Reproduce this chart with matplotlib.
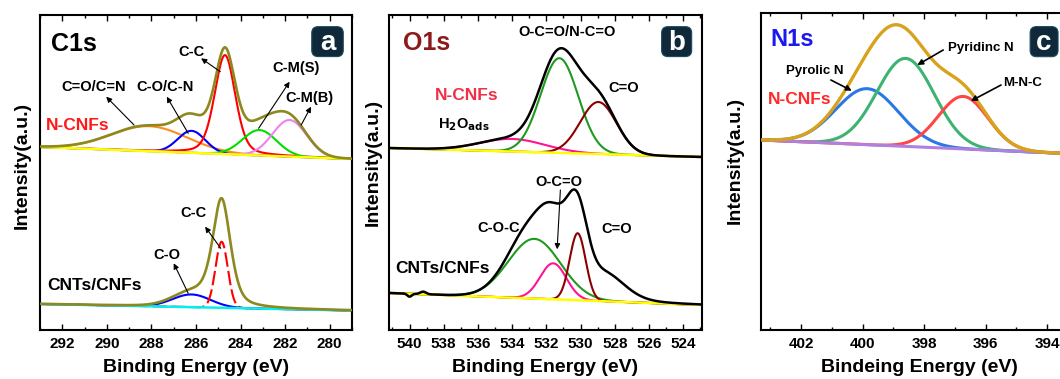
import numpy as np
import matplotlib
matplotlib.use("Agg")
import matplotlib.pyplot as plt
from matplotlib.patches import FancyBboxPatch
from matplotlib.ticker import MultipleLocator

plt.rcParams['font.family'] = ['Liberation Sans', 'DejaVu Sans']
plt.rcParams['font.weight'] = 'bold'
plt.rcParams['mathtext.default'] = 'bf'

# ---- C1s, N-CNFs (peak fit components) ----
c1s_top_names = ['C=O/C=N', 'C-O/C-N', 'C-C', 'C-M(S)', 'C-M(B)']
c1s_top_centers = [288.1, 286.2, 284.7, 283.15, 281.8]
c1s_top_heights = [25.0, 22.0, 99.0, 25.4, 36.6]
c1s_top_fwhm = [4.0, 1.45, 1.1, 1.8, 1.8]
c1s_top_eta = [0.0, 0.0, 0.3, 0.0, 0.0]
c1s_top_baseline = [183.0, 171.0]

# ---- C1s, CNTs/CNFs ----
c1s_bot_names = ['C-O', 'C-C']
c1s_bot_centers = [286.2, 284.85]
c1s_bot_heights = [12.7, 66.0]
c1s_bot_fwhm = [2.0, 0.65]
c1s_bot_eta = [0.0, 0.0]
c1s_bot_env_centers = [286.2, 284.85]
c1s_bot_env_heights = [12.7, 106.0]
c1s_bot_env_fwhm = [2.0, 0.95]
c1s_bot_env_eta = [0.0, 0.5]
c1s_bot_baseline = [26.0, 19.5]

# ---- O1s, N-CNFs ----
o1s_top_names = ['H2O_ads', 'O-C=O/N-C=O', 'C=O']
o1s_top_centers = [534.0, 531.24, 528.96]
o1s_top_heights = [12.6, 94.7, 52.0]
o1s_top_fwhm = [4.5, 2.6, 2.5]
o1s_top_eta = [0.0, 0.0, 0.0]
o1s_top_baseline = [182.0, 173.0]

# ---- O1s, CNTs/CNFs ----
o1s_bot_names = ['C-O-C', 'O-C=O', 'C=O']
o1s_bot_centers = [532.7, 531.6, 530.17]
o1s_bot_heights = [59.7, 36.0, 67.0]
o1s_bot_fwhm = [3.6, 1.8, 1.1]
o1s_bot_eta = [0.0, 0.0, 0.0]
o1s_bot_env_centers = [532.7, 531.5, 530.2, 528.6, 540.0, 539.2]
o1s_bot_env_heights = [75.0, 34.0, 72.0, 28.0, -3.0, 2.5]
o1s_bot_env_fwhm = [3.4, 1.8, 1.4, 2.8, 0.3, 0.4]
o1s_bot_env_eta = [0.0, 0.0, 0.0, 0.3, 0.0, 0.0]
o1s_bot_baseline = [37.0, 25.0]

# ---- N1s, N-CNFs ----
n1s_names = ['Pyrolic N', 'Pyridinc N', 'M-N-C']
n1s_centers = [399.85, 398.6, 396.73]
n1s_heights = [56.0, 88.0, 52.5]
n1s_fwhm = [2.4, 2.2, 1.9]
n1s_eta = [0.0, 0.0, 0.0]
n1s_baseline = [190.0, 176.0]


def peak(x, center, height, fwhm, eta=0.0):
    """Pseudo-Voigt peak."""
    u = (x - center) / fwhm
    g = np.exp(-4 * np.log(2) * u ** 2)
    lor = 1.0 / (1.0 + 4 * u ** 2)
    return height * ((1 - eta) * g + eta * lor)


def baseline(x, ends, xlim):
    return ends[0] + (ends[1] - ends[0]) * (x - xlim[0]) / (xlim[1] - xlim[0])


def envelope(x, centers, heights, fwhm, eta):
    total = np.zeros_like(x)
    for c, h, w, e in zip(centers, heights, fwhm, eta):
        total += peak(x, c, h, w, e)
    return total


def style_axis(ax, xlim, ylim, major, xlabel):
    ax.set_xlim(*xlim)
    ax.set_ylim(*ylim)
    ax.set_yticks([])
    ax.xaxis.set_major_locator(MultipleLocator(major))
    ax.xaxis.set_minor_locator(MultipleLocator(major / 2))
    ax.tick_params(axis='x', which='both', direction='in', top=True,
                   labelsize=11, pad=5, width=1.0)
    ax.tick_params(axis='x', which='major', length=4)
    ax.tick_params(axis='x', which='minor', length=2.5)
    for lab in ax.get_xticklabels():
        lab.set_fontweight('bold')
    for s in ax.spines.values():
        s.set_linewidth(1.5)
    ax.set_xlabel(xlabel, fontsize=14, fontweight='bold', labelpad=6)


def label_box(ax, x0, y0, x1, y1, letter):
    box = FancyBboxPatch((x0, y0), x1 - x0, y1 - y0,
                         boxstyle='round,pad=0,rounding_size=0.02',
                         transform=ax.transAxes, fc='#10293a', ec='#1d4a5e',
                         lw=0.8, zorder=5, clip_on=False)
    ax.add_patch(box)
    ax.text((x0 + x1) / 2, (y0 + y1) / 2 - 0.005, letter, transform=ax.transAxes,
            ha='center', va='center', color='white', fontsize=20,
            fontweight='bold', zorder=6)


def arrow(ax, tail, head, lw=0.8):
    ax.annotate('', xy=head, xytext=tail,
                arrowprops=dict(arrowstyle='-|>', color='black', lw=lw,
                                mutation_scale=8, shrinkA=0, shrinkB=0))


fig = plt.figure(figsize=(10.6, 3.79), dpi=100)
W, H = 1060.0, 379.0
ax_a = fig.add_axes([40 / W, 49 / H, 312 / W, 315 / H])
ax_b = fig.add_axes([389 / W, 49 / H, 313 / W, 315 / H])
ax_c = fig.add_axes([761 / W, 49 / H, 317 / W, 316.7 / H])

# ---------------- panel a: C1s ----------------
xlim_a = (293.0, 279.0)
x = np.linspace(xlim_a[0], xlim_a[1], 800)
bl = baseline(x, c1s_top_baseline, xlim_a)
colors_top_a = ['#ff8c1a', '#0000ff', '#ff0000', '#00dd00', '#ee82ee']
for c, h, w, e, col in zip(c1s_top_centers, c1s_top_heights, c1s_top_fwhm,
                           c1s_top_eta, colors_top_a):
    ax_a.plot(x, bl + peak(x, c, h, w, e), color=col, lw=1.5, zorder=2)
ax_a.plot(x, bl, color='#ffff00', lw=1.8, zorder=2.5)
ax_a.plot(x, bl + envelope(x, c1s_top_centers, c1s_top_heights, c1s_top_fwhm,
                           c1s_top_eta), color='#8c8a1e', lw=1.9, zorder=3)

bl = baseline(x, c1s_bot_baseline, xlim_a)
ax_a.plot(x, bl + peak(x, c1s_bot_centers[0], c1s_bot_heights[0],
                       c1s_bot_fwhm[0], c1s_bot_eta[0]),
          color='#0000ff', lw=1.5, zorder=2)
ax_a.plot(x, bl + peak(x, c1s_bot_centers[1], c1s_bot_heights[1],
                       c1s_bot_fwhm[1], c1s_bot_eta[1]),
          color='#ff0000', lw=1.5, ls=(0, (7, 2)), zorder=2)
ax_a.plot(x, bl, color='#00f0f0', lw=1.8, zorder=2.5)
ax_a.plot(x, bl + envelope(x, c1s_bot_env_centers, c1s_bot_env_heights,
                           c1s_bot_env_fwhm, c1s_bot_env_eta),
          color='#8c8a1e', lw=1.9, zorder=3)

style_axis(ax_a, xlim_a, (0, 315), 2, 'Binding Energy (eV)')
ax_a.text(292.5, 286, 'C1s', fontsize=18, fontweight='bold', ha='left', va='center')
ax_a.text(292.75, 205, 'N-CNFs', color='#ff1a1a', fontsize=12.5, ha='left', va='center')
ax_a.text(292.68, 45, 'CNTs/CNFs', color='black', fontsize=12.5, ha='left', va='center')
fs = 10.5
ax_a.text(290.61, 242.7, 'C=O/C=N', fontsize=fs, ha='center', va='center')
arrow(ax_a, (288.78, 205), (290.03, 233.3))
ax_a.text(287.38, 242.7, 'C-O/C-N', fontsize=fs, ha='center', va='center')
arrow(ax_a, (286.35, 196.7), (287.31, 233.3))
ax_a.text(286.18, 278.3, 'C-C', fontsize=fs, ha='center', va='center')
arrow(ax_a, (284.91, 258.3), (285.77, 271.7))
ax_a.text(281.5, 261.7, 'C-M(S)', fontsize=fs, ha='center', va='center')
arrow(ax_a, (283.19, 201.7), (281.8, 248.3))
ax_a.text(280.91, 231.7, 'C-M(B)', fontsize=fs, ha='center', va='center')
arrow(ax_a, (281.28, 205), (280.84, 223.3))
ax_a.text(286.13, 116.7, 'C-C', fontsize=fs, ha='center', va='center')
arrow(ax_a, (284.89, 81.7), (285.59, 103.3))
ax_a.text(287.31, 75, 'C-O', fontsize=fs, ha='center', va='center')
arrow(ax_a, (286.35, 36.7), (287.0, 66.7))
label_box(ax_a, 0.871, 0.868, 0.972, 0.963, 'a')

# ---------------- panel b: O1s ----------------
xlim_b = (541.2, 522.9)
x = np.linspace(xlim_b[0], xlim_b[1], 800)
bl = baseline(x, o1s_top_baseline, xlim_b)
colors_top_b = ['#ff1493', '#1f9a1f', '#8b0000']
for c, h, w, e, col in zip(o1s_top_centers, o1s_top_heights, o1s_top_fwhm,
                           o1s_top_eta, colors_top_b):
    ax_b.plot(x, bl + peak(x, c, h, w, e), color=col, lw=1.5, zorder=2)
ax_b.plot(x, bl, color='#ffff00', lw=1.8, zorder=2.5)
ax_b.plot(x, bl + envelope(x, o1s_top_centers, o1s_top_heights, o1s_top_fwhm,
                           o1s_top_eta), color='black', lw=1.8, zorder=3)

bl = baseline(x, o1s_bot_baseline, xlim_b)
colors_bot_b = ['#1f9a1f', '#ff1493', '#8b0000']
for c, h, w, e, col in zip(o1s_bot_centers, o1s_bot_heights, o1s_bot_fwhm,
                           o1s_bot_eta, colors_bot_b):
    ax_b.plot(x, bl + peak(x, c, h, w, e), color=col, lw=1.5, zorder=2)
ax_b.plot(x, bl, color='#ffff00', lw=1.8, zorder=2.5)
ax_b.plot(x, bl + envelope(x, o1s_bot_env_centers, o1s_bot_env_heights,
                           o1s_bot_env_fwhm, o1s_bot_env_eta),
          color='black', lw=1.8, zorder=3)

style_axis(ax_b, xlim_b, (0, 315), 2, 'Binding Energy (eV)')
ax_b.text(540.37, 286.7, 'O1s', color='#8b1a1a', fontsize=18, ha='left', va='center')
ax_b.text(536.63, 234, 'N-CNFs', color='#f0304a', fontsize=12.5, ha='center', va='center')
ax_b.text(540.82, 61.7, 'CNTs/CNFs', color='black', fontsize=12.5, ha='left', va='center')
ax_b.text(530.79, 298.3, 'O-C=O/N-C=O', fontsize=fs, ha='center', va='center')
ax_b.text(536.83, 205, r'H$_2$O$_{ads}$', fontsize=fs, ha='center', va='center')
ax_b.text(527.48, 241.7, 'C=O', fontsize=fs, ha='center', va='center')
ax_b.text(531.28, 148.3, 'O-C=O', fontsize=fs, ha='center', va='center')
arrow(ax_b, (531.18, 140), (531.37, 80.7))
ax_b.text(534.78, 101.7, 'C-O-C', fontsize=fs, ha='center', va='center')
ax_b.text(527.87, 100.7, 'C=O', fontsize=fs, ha='center', va='center')
label_box(ax_b, 0.871, 0.868, 0.967, 0.963, 'b')

# ---------------- panel c: N1s ----------------
xlim_c = (403.3, 393.0)
x = np.linspace(xlim_c[0], xlim_c[1], 800)
bl = baseline(x, n1s_baseline, xlim_c)
colors_c = ['#2a78e4', '#3cb371', '#ff4545']
for c, h, w, e, col in zip(n1s_centers, n1s_heights, n1s_fwhm, n1s_eta, colors_c):
    ax_c.plot(x, bl + peak(x, c, h, w, e), color=col, lw=2.2, zorder=2)
ax_c.plot(x, bl, color='#b07fe0', lw=2.2, zorder=2.5)
ax_c.plot(x, bl + envelope(x, n1s_centers, n1s_heights, n1s_fwhm, n1s_eta),
          color='#d8a21c', lw=2.4, zorder=3)

style_axis(ax_c, xlim_c, (0, 316.7), 2, 'Bindeing Energy (eV)')
ax_c.text(402.99, 290.7, 'N1s', color='#1a1aee', fontsize=17, ha='left', va='center')
ax_c.text(402.03, 230.7, 'N-CNFs', color='#ff2a2a', fontsize=12.5, ha='center', va='center')
fs_c = 9.5
ax_c.text(401.54, 259.3, 'Pyrolic N', fontsize=fs_c, ha='center', va='center')
arrow(ax_c, (401.03, 250), (400.35, 239.3), lw=1.2)
ax_c.text(396.16, 282.3, 'Pyridinc N', fontsize=fs_c, ha='center', va='center')
arrow(ax_c, (397.38, 280), (398.22, 265), lw=1.2)
ax_c.text(394.8, 247.3, 'M-N-C', fontsize=fs_c, ha='center', va='center')
arrow(ax_c, (395.5, 245), (396.48, 229), lw=1.2)
label_box(ax_c, 0.849, 0.863, 0.937, 0.958, 'c')

# y labels
for xp, yp in [(22, 165), (373, 162), (735, 160)]:
    fig.text(xp / W, 1 - yp / H, 'Intensity(a.u.)', rotation=90, fontsize=14,
             fontweight='bold', ha='center', va='center')

fig.savefig('out.png', dpi=100)
